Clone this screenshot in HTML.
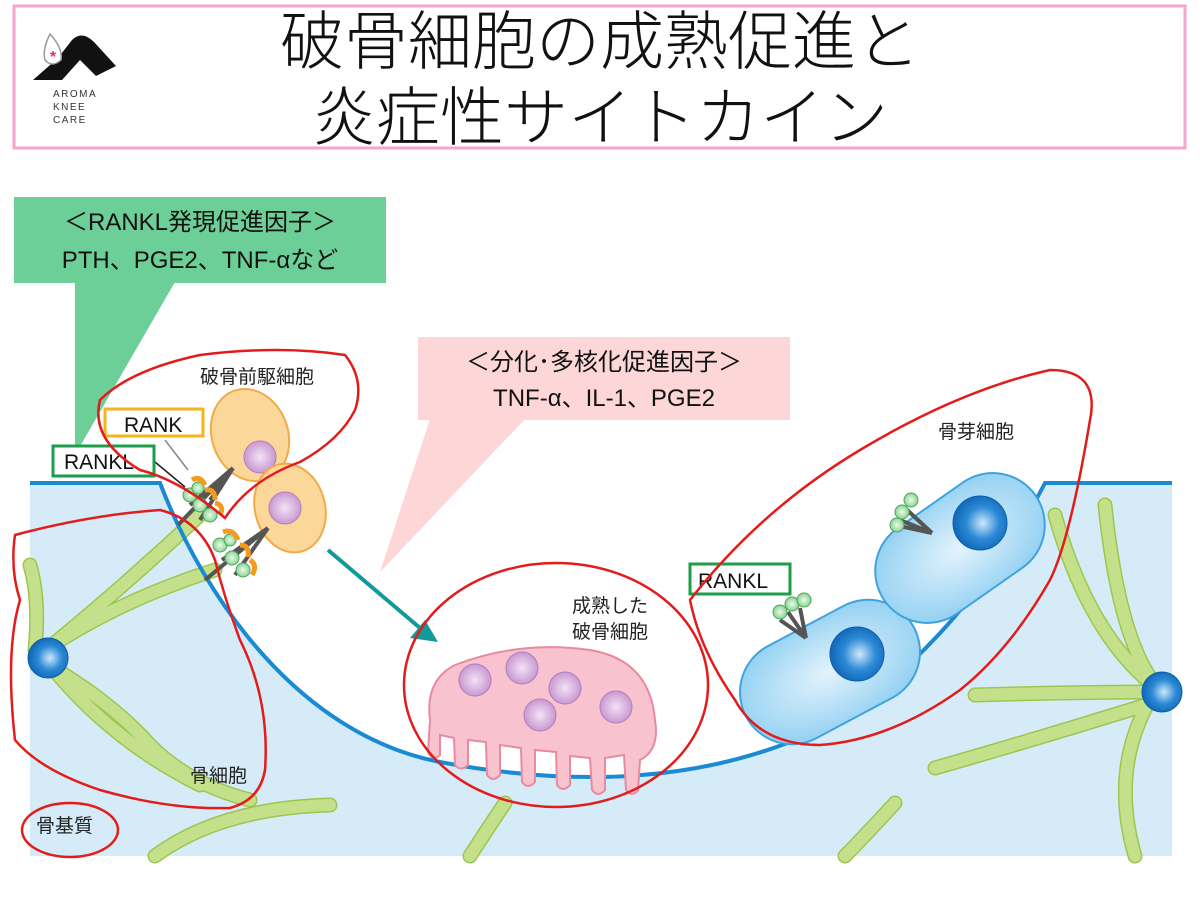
<!DOCTYPE html>
<html><head><meta charset="utf-8"><style>
body{margin:0;width:1200px;height:900px;background:#fff;overflow:hidden}
svg{display:block}
text{font-family:"Liberation Sans","Noto Sans CJK JP",sans-serif}
</style></head><body>
<svg width="1200" height="900" viewBox="0 0 1200 900" xmlns="http://www.w3.org/2000/svg">
<defs>
<radialGradient id="nuc" cx="0.55" cy="0.5" r="0.6"><stop offset="0" stop-color="#cfe8fb"/><stop offset="0.5" stop-color="#2c8ad6"/><stop offset="1" stop-color="#0a5fb0"/></radialGradient>
<radialGradient id="pur" cx="0.5" cy="0.5" r="0.6"><stop offset="0" stop-color="#f3e3f5"/><stop offset="1" stop-color="#c08acb"/></radialGradient>
<radialGradient id="blc" cx="0.5" cy="0.5" r="0.6"><stop offset="0" stop-color="#e4f3fd"/><stop offset="1" stop-color="#8fcff1"/></radialGradient>
<radialGradient id="grn" cx="0.5" cy="0.5" r="0.6"><stop offset="0" stop-color="#eafbe8"/><stop offset="1" stop-color="#7acb86"/></radialGradient>
</defs>
<!-- title -->
<rect x="14" y="6" width="1171" height="142" fill="#fff" stroke="#f4a6cf" stroke-width="3"/>
<text x="600" y="64" font-size="64" text-anchor="middle" fill="#111" font-family="'Noto Sans CJK JP',sans-serif" font-weight="300">破骨細胞の成熟促進と</text>
<text x="600" y="140" font-size="64" text-anchor="middle" fill="#111" font-family="'Noto Sans CJK JP',sans-serif" font-weight="300">炎症性サイトカイン</text>
<!-- logo -->
<path d="M33 80 L58 58 L72 40 Q82 30 94 42 L116 66 L96 76 L80 60 L62 80 Z" fill="#111"/>
<path d="M50 34 Q42 50 45 60 Q52 68 61 60 Q63 48 50 34 Z" fill="#fff" stroke="#999" stroke-width="1.5"/>
<text x="53" y="62" font-size="16" fill="#e0306a" text-anchor="middle" font-weight="bold">*</text>
<text x="53" y="97" font-size="10" fill="#333" letter-spacing="1.5">AROMA</text>
<text x="53" y="110" font-size="10" fill="#333" letter-spacing="1.5">KNEE</text>
<text x="53" y="123" font-size="10" fill="#333" letter-spacing="1.5">CARE</text>
<!-- bone matrix -->
<path d="M30 483 L160 483 C205 600 300 735 440 762 Q640 800 790 742 C900 700 995 580 1045 483 L1172 483 L1172 856 L30 856 Z" fill="#d5ebf8"/>
<!-- osteocytes -->
<g fill="none" stroke-linecap="round">
<g stroke="#9dc650" stroke-width="15">
<path d="M40 655 Q120 590 200 515"/><path d="M45 650 Q120 600 215 570"/><path d="M40 660 Q110 700 150 745 Q190 785 250 800"/><path d="M50 665 Q110 740 200 785"/><path d="M35 650 Q40 600 30 565"/>
<path d="M155 856 Q220 808 330 805"/><path d="M470 856 Q490 825 505 803"/><path d="M845 856 Q875 825 895 803"/>
<path d="M1162 692 Q1120 650 1105 505"/><path d="M1162 692 Q1090 640 1055 515"/><path d="M1162 692 Q1080 692 975 695"/><path d="M1162 700 Q1050 735 935 768"/><path d="M1150 700 Q1110 770 1135 856"/>
</g>
<g stroke="#c5e08a" stroke-width="12">
<path d="M40 655 Q120 590 200 515"/><path d="M45 650 Q120 600 215 570"/><path d="M40 660 Q110 700 150 745 Q190 785 250 800"/><path d="M50 665 Q110 740 200 785"/><path d="M35 650 Q40 600 30 565"/>
<path d="M155 856 Q220 808 330 805"/><path d="M470 856 Q490 825 505 803"/><path d="M845 856 Q875 825 895 803"/>
<path d="M1162 692 Q1120 650 1105 505"/><path d="M1162 692 Q1090 640 1055 515"/><path d="M1162 692 Q1080 692 975 695"/><path d="M1162 700 Q1050 735 935 768"/><path d="M1150 700 Q1110 770 1135 856"/>
</g>
</g>
<circle cx="48" cy="658" r="20" fill="url(#nuc)" stroke="#0a5fb0"/>
<circle cx="1162" cy="692" r="20" fill="url(#nuc)" stroke="#0a5fb0"/>
<path d="M30 483 L160 483 C205 600 300 735 440 762 Q640 800 790 742 C900 700 995 580 1045 483 L1172 483" fill="none" stroke="#1a8ad4" stroke-width="4"/>
<!-- osteoclast precursors -->
<ellipse cx="250" cy="435" rx="38" ry="47" transform="rotate(-20 250 435)" fill="#fbd79a" stroke="#f0ab48" stroke-width="2"/>
<circle cx="260" cy="457" r="16" fill="url(#pur)" stroke="#b27bbd"/>
<ellipse cx="290" cy="508" rx="35" ry="45" transform="rotate(-15 290 508)" fill="#fbd79a" stroke="#f0ab48" stroke-width="2"/>
<circle cx="285" cy="508" r="16" fill="url(#pur)" stroke="#b27bbd"/>
<g stroke="#555" stroke-width="4" fill="none">
<path d="M178 525 L233 468 M190 505 L233 468 M200 520 L233 468 M210 500 L233 468"/>
<path d="M205 580 L268 528 M222 560 L268 528 M235 575 L268 528"/>
</g>
<g fill="url(#grn)" stroke="#4aa45a">
<circle cx="190" cy="495" r="7"/><circle cx="200" cy="505" r="7"/><circle cx="210" cy="515" r="7"/><circle cx="198" cy="488" r="6"/>
<circle cx="220" cy="545" r="7"/><circle cx="232" cy="558" r="7"/><circle cx="243" cy="570" r="7"/><circle cx="230" cy="540" r="6"/>
</g>
<g fill="none" stroke="#f39c1c" stroke-width="5">
<path d="M192 480 Q200 475 205 485 M205 490 Q215 488 215 500 M215 503 Q225 505 220 515"/>
<path d="M223 532 Q233 528 238 540 M240 545 Q250 545 248 557 M250 560 Q258 565 252 575"/>
</g>
<line x1="165" y1="440" x2="188" y2="470" stroke="#888" stroke-width="1.5"/>
<line x1="155" y1="462" x2="185" y2="487" stroke="#222" stroke-width="1.5"/>
<!-- teal arrow -->
<line x1="328" y1="550" x2="420" y2="628" stroke="#12999a" stroke-width="4"/>
<path d="M438 642 L410 638 L425 620 Z" fill="#12999a"/>
<!-- mature osteoclast -->
<path d="M430 720 Q425 680 455 665 Q520 640 590 650 Q650 660 655 720 Q660 750 640 760 L638 790 Q632 798 626 790 L624 755 L605 758 L605 790 Q598 798 592 790 L590 758 L570 756 L570 785 Q563 793 557 785 L556 752 L535 750 L535 782 Q528 790 522 782 L521 748 L500 745 L500 775 Q493 783 487 775 L486 742 L468 740 L468 765 Q461 772 455 765 L454 738 L440 735 L440 755 Q433 762 428 752 Z" fill="#f8c3cf" stroke="#e88aa0" stroke-width="2"/>
<g fill="url(#pur)" stroke="#b27bbd">
<circle cx="475" cy="680" r="16"/><circle cx="522" cy="668" r="16"/><circle cx="565" cy="688" r="16"/><circle cx="540" cy="715" r="16"/><circle cx="616" cy="707" r="16"/>
</g>
<!-- osteoblasts -->
<g transform="rotate(-28 830 672)"><rect x="735" y="620" width="190" height="104" rx="52" fill="url(#blc)" stroke="#3ea3de" stroke-width="2"/></g>
<g transform="rotate(-35 960 548)"><rect x="868" y="496" width="184" height="104" rx="52" fill="url(#blc)" stroke="#3ea3de" stroke-width="2"/></g>
<circle cx="857" cy="654" r="27" fill="url(#nuc)" stroke="#0a5fb0"/>
<circle cx="980" cy="523" r="27" fill="url(#nuc)" stroke="#0a5fb0"/>
<g stroke="#555" stroke-width="4"><path d="M788 612 L806 638 M800 608 L806 638 M780 620 L806 638"/><path d="M900 520 L932 533 M905 508 L932 533 M895 525 L932 533"/></g>
<g fill="url(#grn)" stroke="#4aa45a"><circle cx="780" cy="612" r="7"/><circle cx="792" cy="604" r="7"/><circle cx="804" cy="600" r="7"/><circle cx="897" cy="525" r="7"/><circle cx="902" cy="512" r="7"/><circle cx="911" cy="500" r="7"/></g>
<!-- callouts -->
<rect x="14" y="197" width="372" height="86" fill="#6dcf98"/>
<path d="M75 282 L175 282 L75 455 Z" fill="#6dcf98"/>
<text x="200" y="230" font-size="24" text-anchor="middle" fill="#111">＜RANKL発現促進因子＞</text>
<text x="200" y="268" font-size="24" text-anchor="middle" fill="#111">PTH、PGE2、TNF-αなど</text>
<rect x="418" y="337" width="372" height="83" fill="#fdd6d7"/>
<path d="M430 419 L525 419 L380 572 Z" fill="#fdd6d7"/>
<text x="604" y="370" font-size="24" text-anchor="middle" fill="#111">＜分化･多核化促進因子＞</text>
<text x="604" y="406" font-size="24" text-anchor="middle" fill="#111">TNF-α、IL-1、PGE2</text>
<!-- labels -->
<rect x="105" y="409" width="98" height="27" fill="#fff" stroke="#f3b51c" stroke-width="3"/>
<text x="124" y="432" font-size="21" fill="#111">RANK</text>
<rect x="53" y="446" width="101" height="30" fill="#fff" stroke="#1e9e4a" stroke-width="3"/>
<text x="64" y="469" font-size="21" fill="#111">RANKL</text>
<rect x="690" y="564" width="100" height="30" fill="#fff" stroke="#1e9e4a" stroke-width="3"/>
<text x="698" y="588" font-size="21" fill="#111">RANKL</text>
<g font-size="19" fill="#222">
<text x="200" y="383">破骨前駆細胞</text>
<text x="938" y="438">骨芽細胞</text>
<text x="572" y="612">成熟した</text>
<text x="572" y="638">破骨細胞</text>
<text x="190" y="782">骨細胞</text>
<text x="36" y="832">骨基質</text>
</g>
<!-- red outlines -->
<g fill="none" stroke="#e31b1b" stroke-width="2.5">
<path d="M225 518 Q180 480 140 470 Q90 440 100 400 Q130 370 200 355 Q280 345 345 355 Q365 380 355 410 Q340 440 300 462 Q250 480 225 518 Z"/>
<path d="M15 535 Q90 515 160 510 Q200 520 215 560 Q225 600 240 640 Q270 700 265 770 Q260 800 230 808 Q170 810 100 790 Q40 770 15 740 Q5 650 20 600 Q10 570 15 535 Z"/>
<ellipse cx="70" cy="830" rx="48" ry="27"/>
<ellipse cx="556" cy="685" rx="152" ry="122"/>
<path d="M690 600 Q760 510 860 450 Q960 390 1050 370 Q1100 370 1090 420 Q1070 540 1050 580 Q1010 650 960 690 Q890 740 820 745 Q760 745 735 700 Q700 650 690 600 Z"/>
</g>
</svg>
</body></html>
